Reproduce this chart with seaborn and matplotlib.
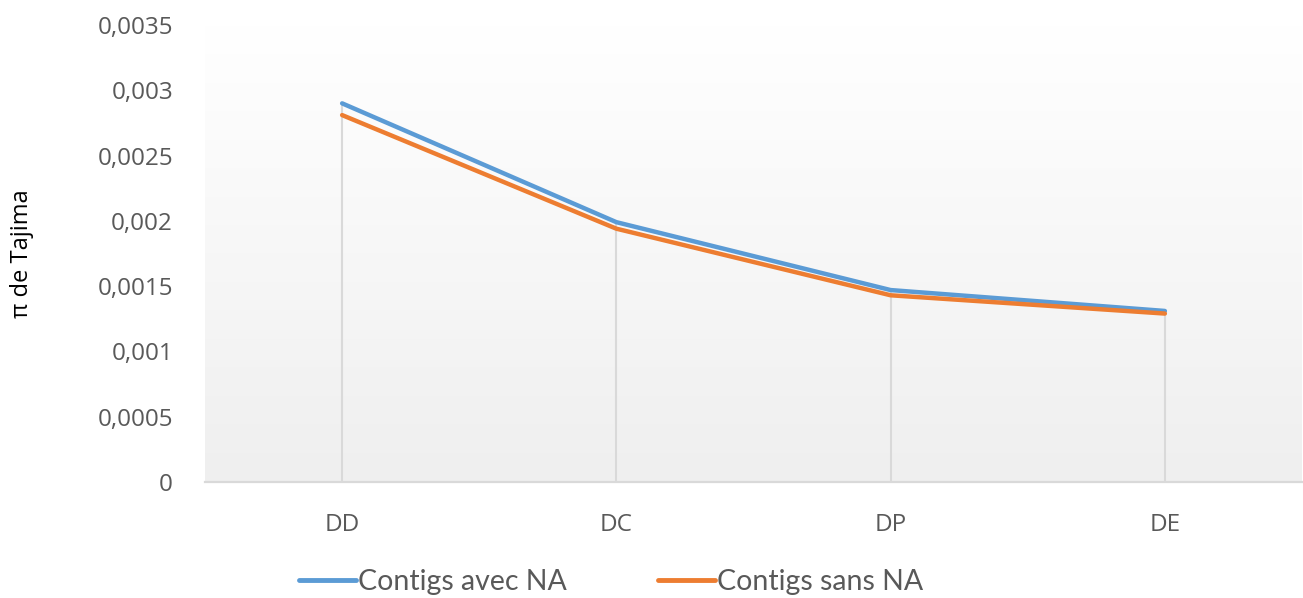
import numpy as np
import pandas as pd
import matplotlib
matplotlib.use("Agg")
import matplotlib.pyplot as plt
from matplotlib.ticker import FixedLocator, FuncFormatter
import seaborn as sns

# Tajima's pi per population
populations = ["DD", "DC", "DP", "DE"]
pi_avec_na = [0.00290, 0.00199, 0.00147, 0.00131]
pi_sans_na = [0.00281, 0.00194, 0.00143, 0.00129]
series_names = ["Contigs avec NA", "Contigs sans NA"]
y_ticks = [0, 0.0005, 0.001, 0.0015, 0.002, 0.0025, 0.003, 0.0035]

df = pd.DataFrame({
    "Population": populations * 2,
    "pi": pi_avec_na + pi_sans_na,
    "Série": [series_names[0]] * len(populations) + [series_names[1]] * len(populations),
})

sns.set_theme(style="white")
plt.rcParams["font.family"] = ["Open Sans", "DejaVu Sans"]

text_color = "#595959"
palette = {series_names[0]: "#5B9BD5", series_names[1]: "#ED7D31"}

fig = plt.figure(figsize=(13.03, 5.98), dpi=100)
ax = fig.add_axes([205 / 1303, 1 - 482 / 598, (1302 - 205) / 1303, (482 - 25) / 598])

# soft vertical gradient behind the plot area
grad = np.linspace(1.0, 0.0, 256).reshape(-1, 1)
top = np.array([1.0, 1.0, 1.0])
bottom = np.array([0xEF, 0xEF, 0xEF]) / 255
img = top * grad[..., None] + bottom * (1 - grad[..., None])
ax.imshow(img, extent=[0, 1, 0, 1], transform=ax.transAxes, aspect="auto", zorder=0)

x_pos = np.arange(len(populations))
# drop lines from the highest point of each category down to zero
ax.vlines(x_pos, 0, np.maximum(pi_avec_na, pi_sans_na), colors="#d9d9d9", linewidth=1.5, zorder=1)

sns.lineplot(data=df, x="Population", y="pi", hue="Série", palette=palette,
             linewidth=3.2, ax=ax, sort=False, zorder=3, legend=False)

ax.set_xlim(-0.5, len(populations) - 0.5)
ax.set_ylim(0, 0.0035)
ax.yaxis.set_major_locator(FixedLocator(y_ticks))
ax.yaxis.set_major_formatter(FuncFormatter(lambda v, p: "0" if v == 0 else f"{v:g}".replace(".", ",")))
ax.set_xticks(x_pos)
ax.set_xticklabels(populations)

for s in ["top", "right", "left"]:
    ax.spines[s].set_visible(False)
ax.spines["bottom"].set_color("#d9d9d9")
ax.spines["bottom"].set_linewidth(1.6)
ax.spines["bottom"].set_zorder(2)

ax.tick_params(axis="both", length=0, labelsize=17.5, colors=text_color)
ax.tick_params(axis="y", pad=23)
ax.tick_params(axis="x", pad=22)
ax.set_xlabel("")
ax.set_ylabel("π de Tajima", fontsize=17, color="black")
ax.yaxis.set_label_coords((34 - 205) / 1097, 0.5)
ax.grid(False)

handles = [plt.Line2D([], [], color=palette[n], linewidth=3.5, solid_capstyle="round") for n in series_names]
leg = fig.legend(handles, series_names, loc="lower left", bbox_to_anchor=(296 / 1303, 0.0),
                 ncol=2, frameon=False, handlelength=2.0, handletextpad=0.08,
                 columnspacing=3.2, borderpad=0.0, borderaxespad=0.1,
                 prop={"family": ["Lato", "DejaVu Sans"], "size": 20.5})
for t in leg.get_texts():
    t.set_color(text_color)

fig.savefig("out.png", dpi=100)
